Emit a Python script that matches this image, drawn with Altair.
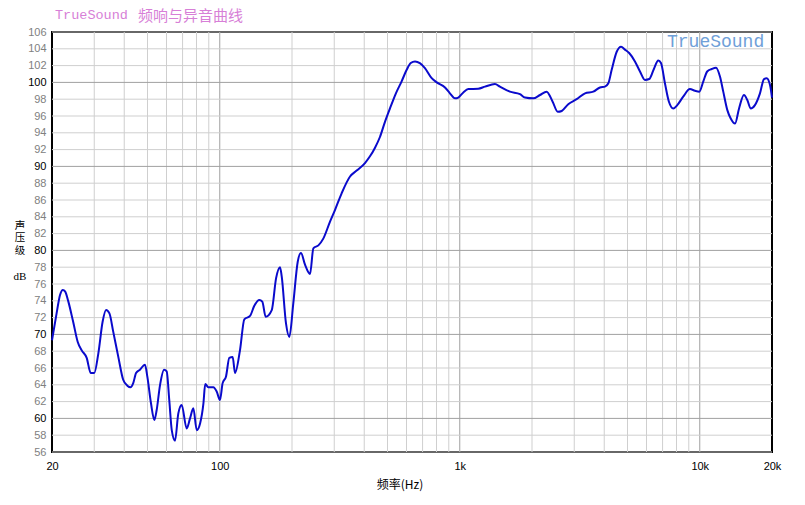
import altair as alt
import pandas as pd

# Frequency response (Hz, dB)
freq = [20, 20.9, 21.6, 22.2, 22.7, 23.4, 24.5, 25.6, 26.6, 27.9, 29.0, 30.0, 31.2, 32.5, 33.6,
        34.7, 36.0, 37.8, 39.6, 41.2, 42.5, 43.6, 44.8, 46.5, 48.8, 49.9, 51.7, 53.4, 54.6, 56.4,
        58.6, 60.1, 61.6, 63.1, 65.1, 67.2, 69.4, 72.8, 75.2, 77.6, 80.2, 82.8, 85.5, 87.0, 89.6,
        94.0, 97.1, 100.2, 102.8, 106.2, 109.6, 113.2, 115.8, 121.4, 126.6, 133.7, 139.3, 146.2,
        150.4, 155.4, 164.7, 171.7, 178.3, 181.2, 188.8, 195.0, 202.5, 211.3, 218, 226.6, 237.8,
        245.5, 257.6, 270, 287.8, 302, 322, 349, 372, 402.8, 422.6, 443, 465, 488, 512, 542, 572,
        601, 625, 651, 682, 716, 764, 802, 868, 910, 955, 986, 1035, 1086, 1194, 1274, 1402, 1470,
        1618, 1782, 1870, 2024, 2160, 2301, 2438, 2560, 2660, 2832, 3070, 3326, 3600, 3840, 4028,
        4160, 4296, 4508, 4700, 4880, 5080, 5370, 5636, 5914, 6160, 6440, 6716, 6894, 7160, 7440,
        7760, 8060, 8532, 9100, 9552, 9954, 10340, 10740, 11220, 11690, 12140, 12530, 13030,
        13460, 14030, 14580, 15280, 15780, 16300, 16980, 17820, 18520, 19000, 19620, 20000]
spl = [69.3, 72.5, 74.7, 75.3, 75.1, 73.9, 71.5, 69.1, 68.1, 67.2, 65.4, 65.4, 67.75, 71.5, 72.9,
       72.5, 70.3, 67.3, 64.6, 63.9, 63.7, 64.2, 65.4, 65.8, 66.4, 65.0, 61.8, 59.8, 61.0, 64.0,
       65.8, 65.6, 62.2, 58.6, 57.35, 60.6, 61.6, 58.8, 60.0, 61.2, 58.6, 59.4, 61.8, 64.1, 63.7,
       63.7, 63.2, 62.2, 64.2, 65.0, 67.2, 67.3, 65.4, 68.1, 71.8, 72.2, 73.4, 74.1,
       73.9, 72.1, 72.9, 76.7, 78.0, 76.9, 71.3, 69.7, 73.7, 78.65, 79.7, 78.3, 77.2,
       80.25, 80.6, 81.4, 83.4, 84.8, 86.8, 88.8, 89.5, 90.4, 91.2, 92.2, 93.5, 95.3, 96.9, 98.7, 100.1,
       101.5, 102.3, 102.5, 102.3, 101.7, 100.5, 100.0, 99.4, 98.7, 98.1, 98.2, 98.8, 99.2, 99.25, 99.5, 99.8, 99.5,
       98.9, 98.6, 98.2, 98.1, 98.5, 98.9, 97.7, 96.5, 96.6, 97.4, 98.0, 98.7, 98.9, 99.4, 99.5,
       99.9, 101.5, 103.65, 104.25, 103.9, 103.5, 102.5, 101.3, 100.3, 100.4, 101.6, 102.6, 102.3, 99.9, 97.7,
       96.9, 97.3, 98.3, 99.2, 99.0, 98.9, 100.1, 101.3, 101.6, 101.75, 100.7, 98.9, 96.7,
       95.7, 95.1, 96.9, 98.5, 97.9, 96.9, 97.3, 98.7, 100.4, 100.5, 99.7, 98.2]

y_ticks = list(range(56, 107, 2))
x_label_values = [20, 100, 1000, 10000, 20000]
x_grid_minor = [30, 40, 50, 60, 70, 80, 90,
                200, 300, 400, 500, 600, 700, 800, 900,
                2000, 3000, 4000, 5000, 6000, 7000, 8000, 9000]
x_grid_major = [100, 1000, 10000]
y_grid_minor = [v for v in y_ticks if v % 10 != 0]
y_grid_major = [v for v in y_ticks if v % 10 == 0]

title_latin = "TrueSound"
title_cjk = "频响与异音曲线"
watermark = "TrueSound"
x_title = "频率(Hz)"
y_title_chars = ["声", "压", "级"]
y_unit = "dB"

W, H = 720, 420
xscale = alt.Scale(type="log", domain=[20, 20000], nice=False)
yscale = alt.Scale(domain=[56, 106], nice=False, zero=False)

xaxis = alt.Axis(
    values=x_label_values, title=None, grid=False, ticks=False, domain=False,
    labelExpr="datum.value >= 1000 ? (datum.value / 1000) + 'k' : datum.value + ''",
    labelFont="Liberation Sans", labelFontSize=11, labelColor="black",
    labelPadding=8, labelFlush=False, labelOverlap=False)
yaxis = alt.Axis(
    values=y_ticks, title=None, grid=False, ticks=False, domain=False,
    labelFont="Liberation Sans", labelFontSize=11, labelPadding=6,
    labelColor={"condition": {"test": "datum.value % 10 === 0", "value": "black"},
                "value": "#808080"},
    labelOverlap=False)

df = pd.DataFrame({"freq": freq, "spl": spl})

gx_minor = alt.Chart(pd.DataFrame({"f": x_grid_minor})).mark_rule(
    color="#cfcfcf", strokeWidth=1).encode(x=alt.X("f:Q", scale=xscale, axis=xaxis))
gx_major = alt.Chart(pd.DataFrame({"f": x_grid_major})).mark_rule(
    color="#a0a0a0", strokeWidth=1).encode(x=alt.X("f:Q", scale=xscale, axis=xaxis))
gy_minor = alt.Chart(pd.DataFrame({"v": y_grid_minor})).mark_rule(
    color="#cfcfcf", strokeWidth=1).encode(y=alt.Y("v:Q", scale=yscale, axis=yaxis))
gy_major = alt.Chart(pd.DataFrame({"v": y_grid_major})).mark_rule(
    color="#a0a0a0", strokeWidth=1).encode(y=alt.Y("v:Q", scale=yscale, axis=yaxis))

line = alt.Chart(df).mark_line(color="#0a0acc", strokeWidth=2, interpolate="monotone").encode(
    x=alt.X("freq:Q", scale=xscale, axis=xaxis),
    y=alt.Y("spl:Q", scale=yscale, axis=yaxis),
)

def txt(s, x, y, size, color, font, align="left", baseline="middle", line_height=None):
    kw = dict(align=align, baseline=baseline, fontSize=size, color=color, font=font)
    if line_height is not None:
        kw["lineHeight"] = line_height
    return alt.Chart(pd.DataFrame({"a": [0]})).mark_text(**kw).encode(
        x=alt.value(x), y=alt.value(y), text=alt.value(s))

texts = [
    txt(title_latin, 3, -17, 13.5, "#d77fd7", "Liberation Mono"),
    txt(title_cjk, 86, -16.5, 15, "#d77fd7", "Noto Sans CJK SC"),
    txt(watermark, 615, 9.5, 18, "#6fa0d8", "Liberation Mono"),
    txt(x_title, 348, 453, 12, "black", "Noto Sans CJK SC", align="center"),
    txt(y_title_chars, -32, 189, 10.5, "black", "Noto Sans CJK SC", align="center",
        baseline="top", line_height=12.3),
    txt(y_unit, -32, 244.5, 11, "black", "Liberation Serif", align="center"),
]

chart = alt.layer(gx_minor, gx_major, gy_minor, gy_major, line, *texts).properties(
    width=W, height=H,
    padding={"left": 44, "top": 24, "right": 25, "bottom": 45},
    autosize=alt.AutoSizeParams(type="none"),
    background="white",
).configure_view(stroke="black", strokeWidth=2)

chart.save("out.html", embed_options={"renderer": "svg", "actions": False})
